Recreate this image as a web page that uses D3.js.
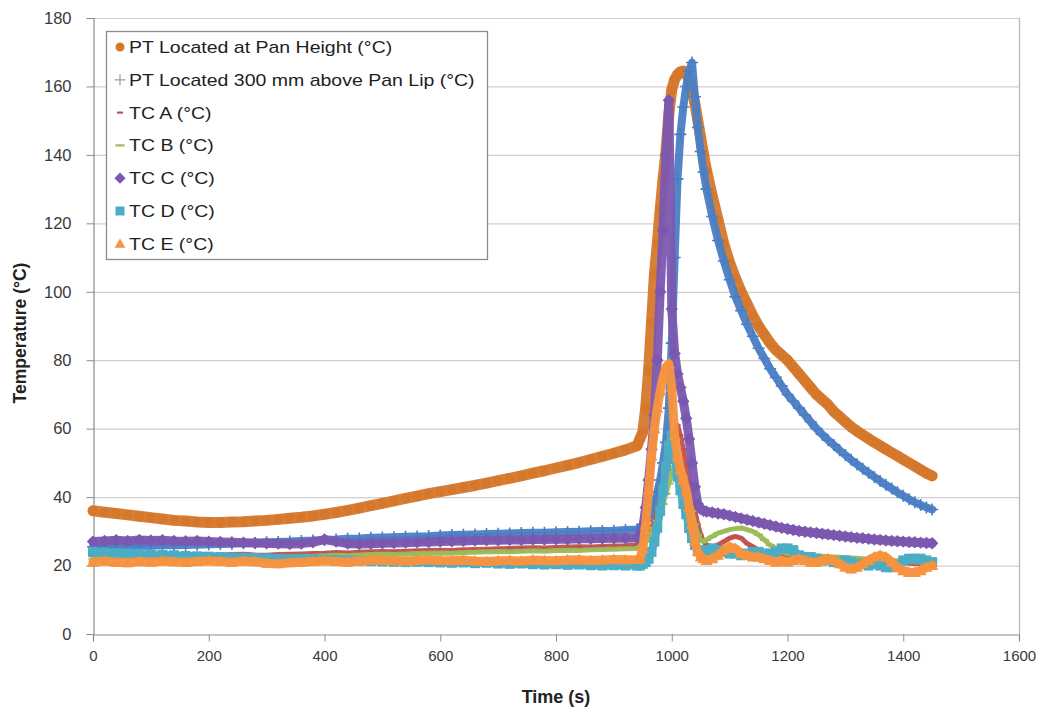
<!DOCTYPE html>
<html><head><meta charset="utf-8">
<script src="https://cdn.jsdelivr.net/npm/d3@7"></script>
<style>
body{margin:0;background:#fff}
svg{display:block}
text{font-family:"Liberation Sans",Arial,sans-serif}
</style>
</head><body>
<svg id="c" width="1044" height="710"></svg>
<script>
// ---------------- data ----------------
const time = [0,20,40,60,80,100,120,140,160,180,200,220,240,260,280,300,320,340,360,380,400,420,440,460,480,500,520,540,560,580,600,620,640,660,680,700,720,740,760,780,800,820,840,860,880,900,920,940,
945,950,955,960,965,970,975,980,985,990,995,1000,1005,1010,1015,1020,1025,1030,1035,1040,1045,1050,1055,1060,
1070,1080,1090,1100,1110,1120,1130,1140,1150,1160,1170,1180,1190,1200,1210,1220,1230,1240,1250,1260,1270,1280,1290,1300,1310,1320,1330,1340,1350,1360,1370,1380,1390,1400,1410,1420,1430,1440,1450];

const ptPan = [36,35.6,35.2,34.8,34.4,34.0,33.6,33.2,33.0,32.7,32.6,32.6,32.7,32.8,33.0,33.2,33.5,33.8,34.1,34.5,35.0,35.5,36.1,36.8,37.5,38.2,38.9,39.6,40.3,41.0,41.6,42.2,42.8,43.4,44.1,44.8,45.5,46.2,47.0,47.7,48.5,49.3,50.1,51.0,51.9,52.8,53.8,55.0,
57,59,66,77,91,105,114,124,133,141,152,159,162,163.5,164.3,164.5,163.5,162,159,155,150,145,140,135.5,
128,121,114,108.5,104,100,96.5,93,90,87.5,85,83,81.5,80,78,76,74,72,70,68.5,67,65,63.5,62,60.5,59.3,58.2,57.1,56,55,54,53,52,51,50,49,48,47,46.2];

const pt300 = [25.5,25.6,25.6,25.7,25.7,25.8,25.9,25.9,26.0,26.1,26.2,26.3,26.4,26.5,26.6,26.8,26.9,27.0,27.2,27.3,27.5,27.6,27.8,27.9,28.1,28.2,28.3,28.4,28.5,28.6,28.8,28.9,29.0,29.1,29.2,29.3,29.4,29.5,29.6,29.6,29.7,29.8,29.9,30.0,30.1,30.2,30.4,30.5,
31,32,33,34,36,38.5,41.5,45,50,56,66,85,110,133,146,154,160,164.5,167,157,148,141,135,130,
122,115,109,103.5,98.5,94.5,90.5,87,83.5,80.5,77.5,75,72.5,70,68,66,64,62,60,58.3,56.7,55.2,53.7,52.3,50.9,49.6,48.3,47.1,45.9,44.7,43.6,42.5,41.4,40.4,39.4,38.5,37.7,37,36.4];

const tcA = [23,23.2,23,23.3,23.1,23,23.2,23.1,23,23.2,23.1,23,23.2,23.3,23.1,23,23.2,23.3,23.4,23.5,23.6,23.8,23.7,23.9,24,24.1,24,24.2,24.3,24.4,24.5,24.4,24.6,24.7,24.8,24.9,25,25.1,25.2,25.1,25.3,25.4,25.5,25.4,25.6,25.7,25.8,26,
26.5,27,28,29,31,33,36,39,42,46,50,55,59,61,58,54,49,44,40,36,32,29,27,26,
25.5,26,27,28,28.5,28,26.5,25.5,24.5,24,23.5,23.3,23,23,22.8,22.6,22.5,22.4,22.3,22.2,22.1,22,21.9,21.8,21.7,21.6,21.5,21.4,21.3,21.2,21.1,21,20.9,20.8,20.7,20.6,20.5,20.4,20.3];

const tcB = [22,22.3,22.1,22.4,22.2,22.3,22.1,22.3,22.2,22.4,22.3,22.2,22.4,22.3,22.1,22.2,22.4,22.5,22.6,22.7,22.9,23,22.9,23.1,23.2,23.3,23.2,23.4,23.5,23.6,23.7,23.6,23.8,23.9,24,24.1,24,24.2,24.3,24.2,24.4,24.5,24.4,24.6,24.7,24.8,24.9,25,
25.5,26,27,28,29.5,31,33,35,38,41,44,47,49,50,48.5,46,43,40,36,32,29,27.5,27,27.5,
28.5,29.5,30,30.5,30.8,31,30.5,30,29,27.5,26,25,24,23.5,23.3,23.1,23,22.9,22.8,22.7,22.6,22.5,22.4,22.3,22.2,22.1,22,21.9,21.8,21.7,21.6,21.5,21.4,21.3,21.2,21.1,21,21,21];

const tcC = [27,27.2,27.4,27.2,27.5,27.3,27.4,27.2,27.1,27.2,27,26.9,26.8,26.7,26.6,26.5,26.4,26.3,26.4,26.8,27.6,27,26.4,26.3,26.4,26.5,26.6,26.7,26.8,26.9,27,27.1,27.2,27.3,27.4,27.4,27.5,27.5,27.6,27.6,27.7,27.7,27.8,27.8,27.9,28,28,28.1,
29,31,37,45,54,64,80,100,118,140,156,95,82,76,72,68,63,57,50,43,38,36.5,36,35.8,
35.5,35.2,35,34.6,34.2,33.8,33.4,33,32.6,32.2,31.8,31.4,31,30.7,30.4,30.1,29.9,29.7,29.5,29.3,29.1,28.9,28.7,28.5,28.3,28.1,28,27.8,27.6,27.5,27.3,27.2,27.1,27,26.9,26.8,26.7,26.6,26.5];

const tcD = [24,23.8,23.6,23.5,23.4,23.2,23.1,23,22.8,22.7,22.6,22.5,22.4,22.3,22.2,22.1,22,21.9,22,21.8,21.7,21.6,21.5,21.4,21.3,21.2,21.1,21,21.1,21,20.9,20.8,20.9,20.7,20.8,20.6,20.5,20.6,20.4,20.3,20.4,20.2,20.3,20.1,20,20.1,20,20,
20,20.5,21,22,24,27,31,36,42,49,55,58,52,46,42,38,35,31,28,26,24.5,24,24,24.5,
25,24.5,24,23.5,23.5,23,23.5,24,24,23.5,23.5,24,25,25,24.5,23,22.5,22.5,22,21.5,21.5,21,21,21.5,21,20.5,20.5,20,20.5,20,19.5,19.5,20,21.5,22,22,22,21.5,21];

const tcE = [21,21.3,21,20.8,21.2,21,21.3,21.1,20.9,21.2,21.4,21.2,21,21.3,21.1,20.7,20.5,20.8,21,21.2,21.4,21.2,21,21.3,21.5,21.6,21.4,21.3,21.5,21.7,21.5,21.4,21.6,21.3,21.2,21.4,21.5,21.3,21.6,21.5,21.4,21.6,21.7,21.5,21.6,21.8,21.7,21.8,
22,25,32,42,52,60,66,71,75,78,79,72,58,52,48,45,42,37,32,27,24,22.5,22,21.5,
22,23,24.5,25.5,25,23.5,23,22.5,22.5,22,21.5,21,21.5,21,21.5,22,21.5,21,21,21.5,22,21.5,20.5,19.5,19,19.5,20.5,21.5,22.5,23,22.5,21,19.5,18.5,18,18,18.5,19.5,20];

const seriesNames = ["PT Located at Pan Height (°C)","PT Located 300 mm above Pan Lip (°C)","TC A (°C)","TC B (°C)","TC C (°C)","TC D (°C)","TC E (°C)"];
const xTicks = [0,200,400,600,800,1000,1200,1400,1600];
const yTicks = [0,20,40,60,80,100,120,140,160,180];

// ---------------- styles ----------------
const styles = [
  {vals: ptPan, color:"#d5782c", marker:"circle",   lw:11},
  {vals: pt300, color:"#4a7ec4", marker:"plus",     lw:8},
  {vals: tcA,   color:"#c0504d", marker:"dashS",    lw:5},
  {vals: tcB,   color:"#9bbb59", marker:"dashL",    lw:5},
  {vals: tcC,   color:"#7b58b0", marker:"diamond",  lw:9},
  {vals: tcD,   color:"#4bacc6", marker:"square",   lw:8},
  {vals: tcE,   color:"#f7923f", marker:"triangle", lw:9}
];

const svg = d3.select("#c");
const L = 93, R = 1019, T = 18, B = 634;
const x = d3.scaleLinear().domain([0,1600]).range([L,R]);
const y = d3.scaleLinear().domain([0,180]).range([B,T]);
const FONT = '"Liberation Sans",Arial,sans-serif';

// gridlines
svg.append("g").selectAll("line").data(yTicks.filter(d=>d>0)).join("line")
  .attr("x1",L).attr("x2",R).attr("y1",d=>y(d)+0.5).attr("y2",d=>y(d)+0.5)
  .attr("stroke","#cfcfcf").attr("stroke-width",1.2);
// right border
svg.append("line").attr("x1",R+0.5).attr("x2",R+0.5).attr("y1",T).attr("y2",B)
  .attr("stroke","#b8b8b8").attr("stroke-width",1.3);

// axes
const gy = svg.append("g").attr("transform",`translate(${L+0.5},0)`)
  .call(d3.axisLeft(y).tickValues(yTicks).tickSize(7).tickPadding(15).tickFormat(d3.format("d")));
const gx = svg.append("g").attr("transform",`translate(0,${B+0.5})`)
  .call(d3.axisBottom(x).tickValues(xTicks).tickSize(7).tickPadding(9).tickFormat(d3.format("d")));
[gy,gx].forEach(g=>{
  g.select(".domain").attr("stroke","#8c8c8c").attr("stroke-width",1.2);
  g.selectAll(".tick line").attr("stroke","#8c8c8c");
  g.selectAll(".tick text").attr("fill","#3a3a3a").style("font-family",FONT);
});
gy.selectAll(".tick text").style("font-size","16.5px");
gx.selectAll(".tick text").style("font-size","15px");

// axis titles
svg.append("text").attr("x",556).attr("y",703).attr("text-anchor","middle")
  .style("font-size","18px").style("font-weight","bold").attr("fill","#222").text("Time (s)");
svg.append("text").attr("transform","translate(26,333) rotate(-90)").attr("text-anchor","middle")
  .style("font-size","17.5px").style("font-weight","bold").attr("fill","#222").text("Temperature (°C)");

// marker path generator
function markerPath(type, s){
  switch(type){
    case "circle": return d3.symbol(d3.symbolCircle, s*s*0.78)();
    case "diamond": { const h=s*0.62; return `M0,${-h}L${h},0L0,${h}L${-h},0Z`; }
    case "square": { const h=s/2; return `M${-h},${-h}H${h}V${h}H${-h}Z`; }
    case "triangle": { const h=s*0.6; return `M0,${-h}L${h},${h*0.75}L${-h},${h*0.75}Z`; }
    case "plus": { const h=s/2; return `M${-h},0H${h}M0,${-h}V${h}`; }
    case "dashS": return `M-3,0H3`;
    case "dashL": return `M-4.5,0H4.5`;
  }
}
function styleMarker(sel, st){
  if(st.marker==="plus"||st.marker==="dashS"||st.marker==="dashL"){
    sel.attr("fill","none").attr("stroke",st.color).attr("stroke-width",st.marker==="plus"?1.6:2.2);
  } else sel.attr("fill",st.color).attr("stroke","none");
}

const line = d3.line().x(d=>x(d[0])).y(d=>y(d[1]));
const plot = svg.append("g");
styles.forEach(st=>{
  const pts = time.map((t,i)=>[t, st.vals[i]]);
  const g = plot.append("g");
  g.append("path").attr("d",line(pts)).attr("fill","none").attr("stroke",st.color)
    .attr("stroke-width",st.lw).attr("stroke-linejoin","round").attr("stroke-linecap","round").attr("opacity",0.95);
  const m = g.selectAll("path.m").data(pts).join("path").attr("class","m")
    .attr("transform",d=>`translate(${x(d[0])},${y(d[1])})`)
    .attr("d",markerPath(st.marker, st.marker==="plus"?12:10));
  styleMarker(m, st);
});

// legend
const lg = svg.append("g");
lg.append("rect").attr("x",106.5).attr("y",31.5).attr("width",381).attr("height",228)
  .attr("fill","#fff").attr("stroke","#8c8c8c").attr("stroke-width",1.3);
seriesNames.forEach((n,i)=>{
  const cy = 47 + i*32.8;
  const st = styles[i];
  const mk = lg.append("path").attr("transform",`translate(120,${cy})`)
    .attr("d",markerPath(st.marker, st.marker==="plus"?11:9));
  if(st.marker==="plus") mk.attr("fill","none").attr("stroke","#a0a0a0").attr("stroke-width",1.2);
  else styleMarker(mk, st);
  lg.append("text").attr("transform",`translate(129,${cy+6}) scale(1.22,1)`)
    .style("font-size","16px").attr("fill","#222").text(n);
});
</script>
</body></html>
